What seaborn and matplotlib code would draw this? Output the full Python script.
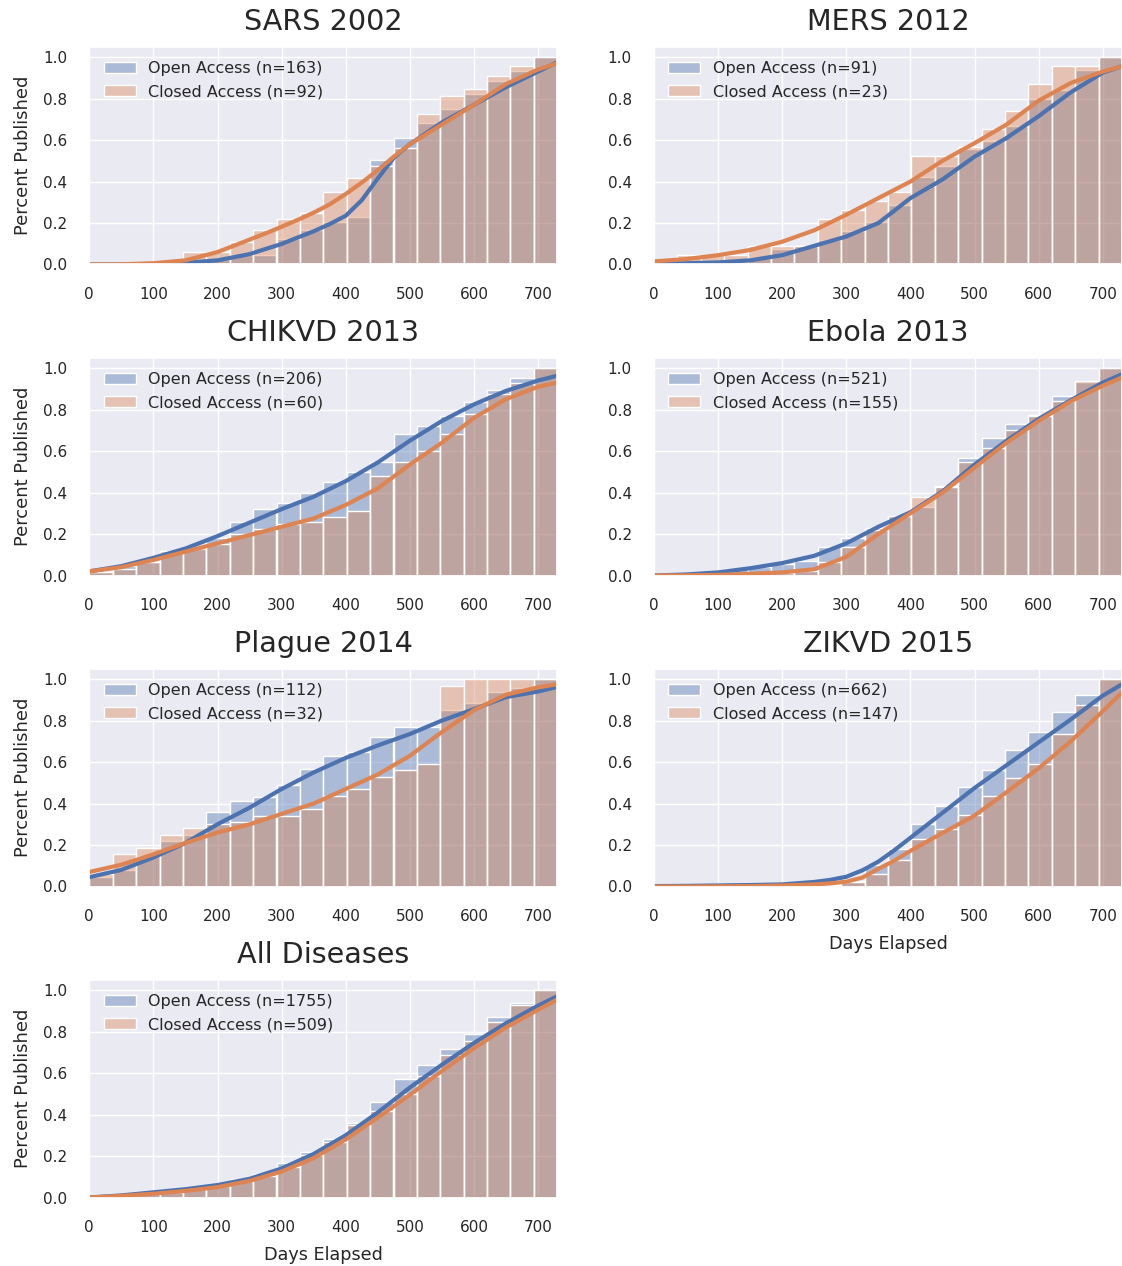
import numpy as np
import pandas as pd
import matplotlib
matplotlib.use("Agg")
import matplotlib.pyplot as plt
import seaborn as sns

# ---------------- data ----------------
TITLES = ["SARS 2002", "MERS 2012", "CHIKVD 2013", "Ebola 2013",
          "Plague 2014", "ZIKVD 2015", "All Diseases"]
N_OPEN = [163, 91, 206, 521, 112, 662, 1755]
N_CLOSED = [92, 23, 60, 155, 32, 147, 509]

X_TICKS = [0, 100, 200, 300, 400, 500, 600, 700]
Y_TICKS = [0.0, 0.2, 0.4, 0.6, 0.8, 1.0]
N_BINS = 20
MAX_DAYS = 730

# days at which the smoothed cumulative curves were read
DAYS_CURVE = [0, 50, 100, 150, 200, 250, 300, 350, 400, 450, 500, 550, 600, 650, 700, 730]
SARS_DAYS_CURVE = [0, 50, 100, 150, 200, 250, 275, 300, 325, 350, 375, 400, 425, 450, 475,
                   500, 550, 600, 650, 700, 730]
ZIKVD_DAYS_CURVE = [0, 50, 100, 150, 200, 250, 275, 300, 325, 350, 375, 400, 450, 500, 550,
                    600, 650, 700, 730]

# cumulative fraction per bin (20 bins over 0-730 days)
SARS_OPEN_BARS = [0, 0, 0, 0, 0.006, 0.025, 0.045, 0.045, 0.125, 0.166, 0.206, 0.23,
                  0.505, 0.61, 0.68, 0.75, 0.82, 0.887, 0.935, 1.0]
SARS_CLOSED_BARS = [0, 0, 0, 0, 0.058, 0.058, 0.11, 0.166, 0.22, 0.25, 0.35, 0.416,
                    0.473, 0.56, 0.726, 0.81, 0.847, 0.91, 0.956, 1.0]
SARS_OPEN_CURVE = [0, 0, 0.003, 0.008, 0.02, 0.05, 0.075, 0.099, 0.13, 0.16, 0.195, 0.235,
                   0.31, 0.415, 0.515, 0.58, 0.685, 0.77, 0.855, 0.93, 0.975]
SARS_CLOSED_CURVE = [0, 0.001, 0.006, 0.02, 0.06, 0.12, 0.15, 0.182, 0.215, 0.25, 0.29, 0.34,
                     0.395, 0.455, 0.52, 0.58, 0.675, 0.77, 0.87, 0.94, 0.97]

MERS_OPEN_BARS = [0, 0, 0.01, 0.01, 0.03, 0.077, 0.09, 0.116, 0.16, 0.206, 0.287, 0.42,
                  0.477, 0.558, 0.593, 0.666, 0.80, 0.84, 0.94, 1.0]
MERS_CLOSED_BARS = [0, 0.0435, 0.0435, 0.0435, 0.087, 0.087, 0.087, 0.217, 0.261, 0.304,
                    0.348, 0.522, 0.522, 0.565, 0.652, 0.739, 0.870, 0.957, 0.957, 1.0]
MERS_OPEN_CURVE = [0.005, 0.006, 0.01, 0.02, 0.045, 0.09, 0.135, 0.20, 0.32, 0.41, 0.52,
                   0.61, 0.715, 0.83, 0.925, 0.956]
MERS_CLOSED_CURVE = [0.015, 0.026, 0.045, 0.07, 0.11, 0.165, 0.24, 0.32, 0.40, 0.50, 0.585,
                     0.675, 0.79, 0.875, 0.93, 0.955]

CHIKVD_OPEN_BARS = [0.015, 0.044, 0.065, 0.108, 0.13, 0.18, 0.26, 0.32, 0.35, 0.40, 0.45,
                    0.50, 0.545, 0.68, 0.72, 0.77, 0.835, 0.895, 0.95, 1.0]
CHIKVD_CLOSED_BARS = [0.017, 0.033, 0.067, 0.12, 0.134, 0.15, 0.20, 0.226, 0.25, 0.26, 0.28,
                      0.31, 0.48, 0.545, 0.60, 0.68, 0.78, 0.875, 0.93, 1.0]
CHIKVD_OPEN_CURVE = [0.02, 0.045, 0.085, 0.13, 0.19, 0.255, 0.32, 0.38, 0.455, 0.545, 0.65,
                     0.745, 0.825, 0.89, 0.94, 0.963]
CHIKVD_CLOSED_CURVE = [0.02, 0.04, 0.075, 0.115, 0.155, 0.195, 0.235, 0.275, 0.34, 0.42,
                       0.535, 0.64, 0.76, 0.85, 0.91, 0.93]

EBOLA_OPEN_BARS = [0, 0.003, 0.01, 0.03, 0.04, 0.055, 0.07, 0.135, 0.18, 0.23, 0.285, 0.33,
                   0.43, 0.565, 0.665, 0.73, 0.775, 0.865, 0.935, 1.0]
EBOLA_CLOSED_BARS = [0, 0, 0, 0.005, 0.006, 0.01, 0.02, 0.065, 0.135, 0.22, 0.285, 0.38,
                     0.425, 0.545, 0.616, 0.70, 0.77, 0.84, 0.94, 1.0]
EBOLA_OPEN_CURVE = [0, 0.005, 0.015, 0.035, 0.06, 0.095, 0.155, 0.235, 0.305, 0.405, 0.535,
                    0.65, 0.755, 0.845, 0.93, 0.97]
EBOLA_CLOSED_CURVE = [0, 0.001, 0.003, 0.008, 0.015, 0.03, 0.09, 0.2, 0.3, 0.4, 0.52,
                      0.64, 0.745, 0.84, 0.915, 0.955]

PLAGUE_OPEN_BARS = [0.045, 0.08, 0.147, 0.22, 0.25, 0.36, 0.41, 0.43, 0.49, 0.566, 0.627,
                    0.647, 0.72, 0.77, 0.77, 0.85, 0.884, 0.937, 0.955, 1.0]
PLAGUE_CLOSED_BARS = [0.0625, 0.156, 0.1875, 0.25, 0.28, 0.30, 0.31, 0.34, 0.34, 0.375,
                      0.4375, 0.47, 0.53, 0.5625, 0.59, 0.969, 1.0, 1.0, 1.0, 1.0]
PLAGUE_OPEN_CURVE = [0.045, 0.08, 0.14, 0.21, 0.30, 0.38, 0.47, 0.55, 0.62, 0.68, 0.735,
                     0.80, 0.855, 0.913, 0.94, 0.962]
PLAGUE_CLOSED_CURVE = [0.07, 0.105, 0.155, 0.21, 0.26, 0.30, 0.35, 0.40, 0.47, 0.54, 0.63,
                       0.745, 0.85, 0.925, 0.96, 0.975]

ZIKVD_OPEN_BARS = [0.002, 0.003, 0.004, 0.005, 0.006, 0.008, 0.01, 0.012, 0.025, 0.105,
                   0.18, 0.30, 0.39, 0.48, 0.56, 0.657, 0.747, 0.84, 0.925, 1.0]
ZIKVD_CLOSED_BARS = [0, 0, 0, 0, 0, 0.005, 0.007, 0.007, 0.02, 0.06, 0.13, 0.23, 0.275,
                     0.345, 0.435, 0.525, 0.59, 0.735, 0.875, 1.0]
ZIKVD_OPEN_CURVE = [0.002, 0.003, 0.005, 0.007, 0.01, 0.022, 0.032, 0.047, 0.078, 0.12,
                    0.175, 0.235, 0.355, 0.475, 0.585, 0.695, 0.805, 0.92, 0.975]
ZIKVD_CLOSED_CURVE = [0, 0, 0.001, 0.002, 0.005, 0.01, 0.015, 0.023, 0.043, 0.085, 0.125,
                      0.172, 0.258, 0.342, 0.455, 0.57, 0.70, 0.845, 0.935]

ALL_OPEN_BARS = [0.002, 0.01, 0.02, 0.03, 0.045, 0.06, 0.088, 0.115, 0.165, 0.22, 0.28,
                 0.358, 0.46, 0.57, 0.637, 0.715, 0.787, 0.868, 0.94, 1.0]
ALL_CLOSED_BARS = [0.001, 0.008, 0.015, 0.025, 0.04, 0.055, 0.08, 0.105, 0.145, 0.205,
                   0.266, 0.35, 0.416, 0.497, 0.584, 0.685, 0.755, 0.847, 0.927, 1.0]
ALL_OPEN_CURVE = [0, 0.01, 0.025, 0.04, 0.06, 0.09, 0.14, 0.21, 0.30, 0.41, 0.53, 0.64,
                  0.745, 0.84, 0.925, 0.97]
ALL_CLOSED_CURVE = [0, 0.008, 0.018, 0.032, 0.05, 0.08, 0.125, 0.19, 0.28, 0.385, 0.495,
                    0.61, 0.72, 0.82, 0.905, 0.955]

OPEN_BARS = [SARS_OPEN_BARS, MERS_OPEN_BARS, CHIKVD_OPEN_BARS, EBOLA_OPEN_BARS,
             PLAGUE_OPEN_BARS, ZIKVD_OPEN_BARS, ALL_OPEN_BARS]
CLOSED_BARS = [SARS_CLOSED_BARS, MERS_CLOSED_BARS, CHIKVD_CLOSED_BARS, EBOLA_CLOSED_BARS,
               PLAGUE_CLOSED_BARS, ZIKVD_CLOSED_BARS, ALL_CLOSED_BARS]
CURVE_DAYS = [SARS_DAYS_CURVE, DAYS_CURVE, DAYS_CURVE, DAYS_CURVE,
              DAYS_CURVE, ZIKVD_DAYS_CURVE, DAYS_CURVE]
OPEN_CURVES = [SARS_OPEN_CURVE, MERS_OPEN_CURVE, CHIKVD_OPEN_CURVE, EBOLA_OPEN_CURVE,
               PLAGUE_OPEN_CURVE, ZIKVD_OPEN_CURVE, ALL_OPEN_CURVE]
CLOSED_CURVES = [SARS_CLOSED_CURVE, MERS_CLOSED_CURVE, CHIKVD_CLOSED_CURVE, EBOLA_CLOSED_CURVE,
                 PLAGUE_CLOSED_CURVE, ZIKVD_CLOSED_CURVE, ALL_CLOSED_CURVE]

# ---------------- style ----------------
sns.set_theme(style="darkgrid", context="notebook")
pal = sns.color_palette("deep")
C_OPEN, C_CLOSED = pal[0], pal[1]

W, H = 1122, 1266
fig = plt.figure(figsize=(W / 100, H / 100), dpi=100)

edges = list(np.linspace(0, MAX_DAYS, N_BINS + 1))
centers = [(a + b) / 2 for a, b in zip(edges[:-1], edges[1:])]

AX_W, AX_H = 468, 217.8
for i, title in enumerate(TITLES):
    r, c = divmod(i, 2)
    left = 89.3 if c == 0 else 654
    top = 46.7 + 311 * r
    ax = fig.add_axes([left / W, 1 - (top + AX_H) / H, AX_W / W, AX_H / H])

    bars = pd.DataFrame({"day": centers, "open": OPEN_BARS[i], "closed": CLOSED_BARS[i]})
    curves = pd.DataFrame({"day": CURVE_DAYS[i], "open": OPEN_CURVES[i],
                           "closed": CLOSED_CURVES[i]})

    sns.histplot(data=bars, x="day", weights="open", bins=edges, color=C_OPEN, alpha=0.4,
                 edgecolor="white", linewidth=1, ax=ax,
                 label=f"Open Access (n={N_OPEN[i]})")
    sns.lineplot(data=curves, x="day", y="open", color=C_OPEN, lw=3, ax=ax,
                 errorbar=None)
    sns.histplot(data=bars, x="day", weights="closed", bins=edges, color=C_CLOSED, alpha=0.4,
                 edgecolor="white", linewidth=1, ax=ax,
                 label=f"Closed Access (n={N_CLOSED[i]})")
    sns.lineplot(data=curves, x="day", y="closed", color=C_CLOSED, lw=3, ax=ax,
                 errorbar=None)

    ax.set_xlim(0, MAX_DAYS)
    ax.set_ylim(0, 1.05)
    ax.set_xticks(X_TICKS)
    ax.set_yticks(Y_TICKS)
    ax.set_yticklabels([f"{v:.1f}" for v in Y_TICKS])
    ax.tick_params(axis="both", labelsize=11, pad=10)
    ax.set_title(title, fontsize=20.6, pad=12)
    ax.set_ylabel("Percent Published" if c == 0 else "", fontsize=12.9, labelpad=8)
    ax.set_xlabel("Days Elapsed" if i >= 5 else "", fontsize=12.7, labelpad=8)

    handles, labels = ax.get_legend_handles_labels()
    ax.legend(handles, labels, loc="upper left", frameon=False, fontsize=11.5)

fig.savefig("out.png", dpi=100)
